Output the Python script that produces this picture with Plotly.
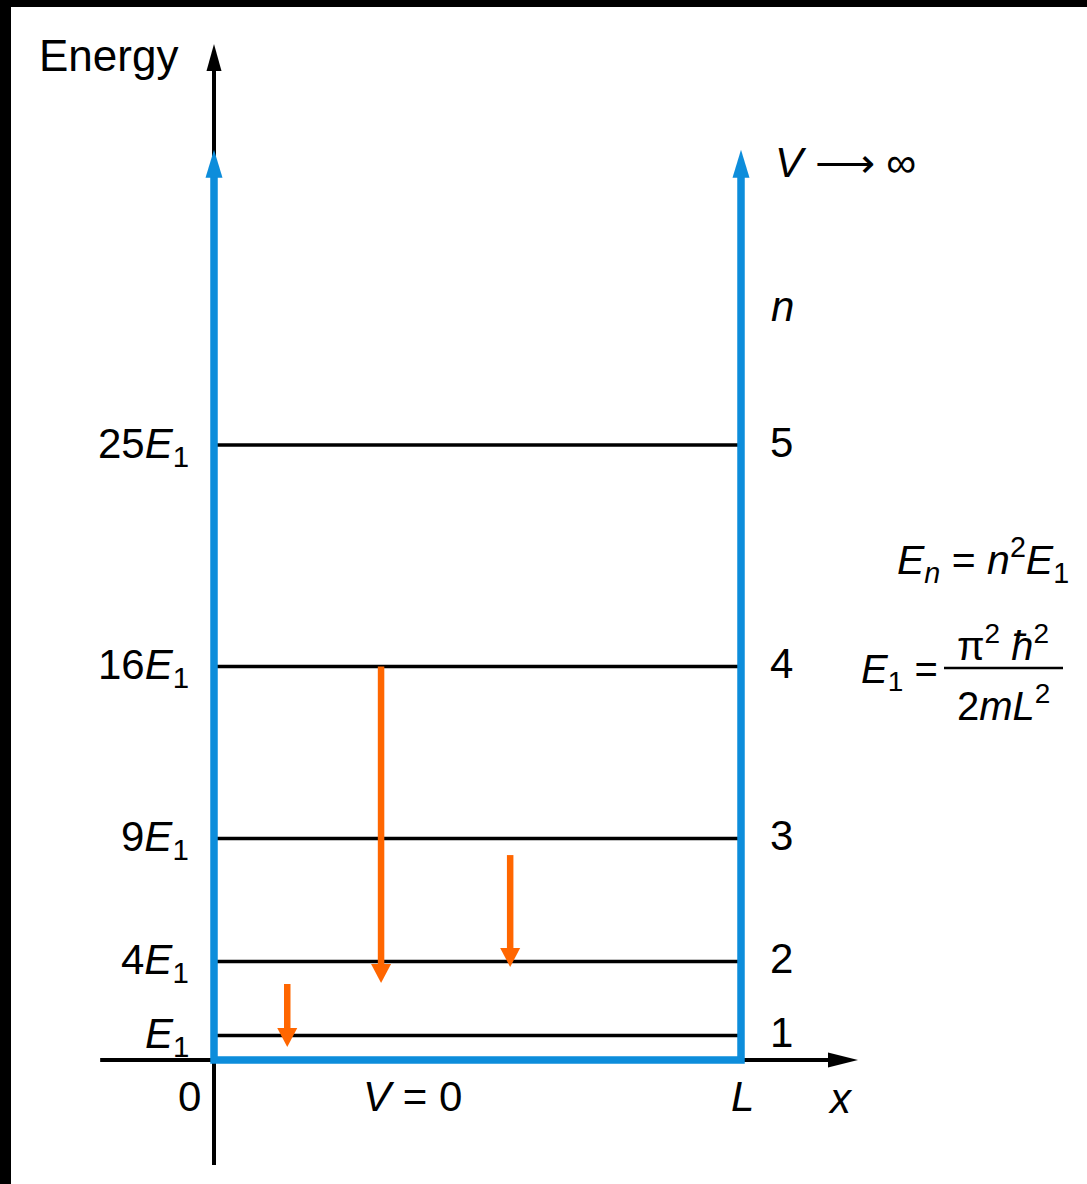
import plotly.graph_objects as go

# ---------------- data ----------------
level_n = [1, 2, 3, 4, 5]
level_energy = [1, 4, 9, 16, 25]          # in units of E1
level_labels = ["<i>E</i><sub>1</sub>", "4<i>E</i><sub>1</sub>", "9<i>E</i><sub>1</sub>",
                "16<i>E</i><sub>1</sub>", "25<i>E</i><sub>1</sub>"]
well_left = 0.0
well_right = 1.0        # L
wall_top = 37.0         # arrow tip of the walls (V -> infinity)
energy_axis = [-4.27, 41.3]
x_axis = [-0.216, 1.222]
arrow_x = [0.139, 0.317, 0.562]
arrow_start = [3.09, 16.0, 8.33]
arrow_end = [0.53, 3.13, 3.78]

# ---------------- layout constants ----------------
W, H = 1087, 1184
ML, MT = 11, 7
X0_PX, XS = 214.0, 527.0     # pixel of x=0, pixels per unit x
Y0_PX, YS = 1060.0, 24.6     # pixel of E=0, pixels per unit E

def px2x(p):
    return (p - X0_PX) / XS

def px2y(p):
    return (Y0_PX - p) / YS

BLUE = "#0d8ddb"
ORANGE = "#ff6600"
FONT = "Liberation Sans, Arial, sans-serif"

fig = go.Figure()

def head(tip_x, tip_y, direction, length_px, width_px, color):
    """filled triangular arrowhead; direction 'up', 'down', 'right'"""
    if direction == "up":
        bx = [tip_x - width_px / 2 / XS, tip_x + width_px / 2 / XS]
        by = tip_y - length_px / YS
        xs = [tip_x, bx[0], bx[1], tip_x]
        ys = [tip_y, by, by, tip_y]
    elif direction == "down":
        bx = [tip_x - width_px / 2 / XS, tip_x + width_px / 2 / XS]
        by = tip_y + length_px / YS
        xs = [tip_x, bx[0], bx[1], tip_x]
        ys = [tip_y, by, by, tip_y]
    else:  # right
        bxx = tip_x - length_px / XS
        hy = width_px / 2 / YS
        xs = [tip_x, bxx, bxx, tip_x]
        ys = [tip_y, tip_y + hy, tip_y - hy, tip_y]
    fig.add_trace(go.Scatter(x=xs, y=ys, mode="lines", fill="toself", fillcolor=color,
                             line=dict(color=color, width=0), hoverinfo="skip",
                             showlegend=False))

# black axes
ax_head = 27
fig.add_trace(go.Scatter(x=[well_left, well_left],
                         y=[energy_axis[0], energy_axis[1] - ax_head / YS + 0.2],
                         mode="lines", line=dict(color="black", width=4), showlegend=False))
head(well_left, energy_axis[1], "up", ax_head, 15, "black")
fig.add_trace(go.Scatter(x=[x_axis[0], x_axis[1] - 30 / XS + 0.005], y=[0, 0],
                         mode="lines", line=dict(color="black", width=4), showlegend=False))
head(x_axis[1], 0, "right", 30, 15, "black")

# energy levels
lx, ly = [], []
for e in level_energy:
    lx += [well_left, well_right, None]
    ly += [e, e, None]
fig.add_trace(go.Scatter(x=lx, y=ly, mode="lines", line=dict(color="black", width=3.5),
                         showlegend=False))

# infinite well (blue)
wall_head = 28
fig.add_trace(go.Scatter(x=[well_left, well_left, well_right, well_right],
                         y=[wall_top - wall_head / YS + 0.2, 0, 0, wall_top - wall_head / YS + 0.2],
                         mode="lines", line=dict(color=BLUE, width=7.5), showlegend=False))
head(well_left, wall_top, "up", wall_head, 17, BLUE)
head(well_right, wall_top, "up", wall_head, 17, BLUE)

# transition arrows (orange)
o_head = 19
for xa, ys_, ye in zip(arrow_x, arrow_start, arrow_end):
    fig.add_trace(go.Scatter(x=[xa, xa], y=[ys_, ye + o_head / YS - 0.1], mode="lines",
                             line=dict(color=ORANGE, width=6.5), showlegend=False))
    head(xa, ye, "down", o_head, 20, ORANGE)

annotations = []

def txt(text, xp, yp, size=42, xanchor="center", yanchor="middle"):
    annotations.append(dict(text=text, x=px2x(xp), y=px2y(yp), xref="x", yref="y",
                            showarrow=False, xanchor=xanchor, yanchor=yanchor,
                            font=dict(family=FONT, size=size, color="black")))

# level labels (left) and quantum numbers (right)
for n, e, lab in zip(level_n, level_energy, level_labels):
    annotations.append(dict(text=lab, x=px2x(191), y=e, xref="x", yref="y", showarrow=False,
                            xanchor="right", yanchor="middle", yshift=-1,
                            font=dict(family=FONT, size=42, color="black")))
    annotations.append(dict(text=str(n), x=px2x(781), y=e, xref="x", yref="y", showarrow=False,
                            xanchor="center", yanchor="middle", yshift=3,
                            font=dict(family=FONT, size=42, color="black")))

txt("Energy", 37, 55, size=44, xanchor="left")
txt("<i>V</i> ⟶ ∞", 773, 162, xanchor="left")
txt("<i>n</i>", 782, 306)
txt("<i>V</i> = 0", 412, 1096)
txt("0", 189, 1096)
txt("<i>L</i>", 742, 1096)
txt("<i>x</i>", 840, 1098)
txt("<i>E<sub>n</sub></i> = <i>n</i><sup>2</sup><i>E</i><sub>1</sub>", 1071, 560, size=41, xanchor="right")
txt("<i>E</i><sub>1</sub> =", 859, 672, size=40, xanchor="left")
txt("π<sup>2</sup> <i>ħ</i><sup>2</sup>", 1003, 643, size=40)
txt("2<i>mL</i><sup>2</sup>", 1003, 703, size=40)

fig.add_shape(type="line", x0=px2x(944), x1=px2x(1063), y0=px2y(668), y1=px2y(668),
              xref="x", yref="y", line=dict(color="black", width=2.5))

fig.update_layout(
    width=W, height=H,
    margin=dict(l=ML, r=0, t=MT, b=0, pad=0),
    paper_bgcolor="black", plot_bgcolor="white",
    annotations=annotations,
    showlegend=False,
    xaxis=dict(range=[px2x(ML), px2x(W)], visible=False, fixedrange=True),
    yaxis=dict(range=[px2y(H), px2y(MT)], visible=False, fixedrange=True),
)

fig.write_html("out.html",
               config={"displayModeBar": False, "staticPlot": True},
               post_script="document.body.style.margin='0';"
                           "document.body.style.padding='0';"
                           "document.body.style.overflow='hidden';")
